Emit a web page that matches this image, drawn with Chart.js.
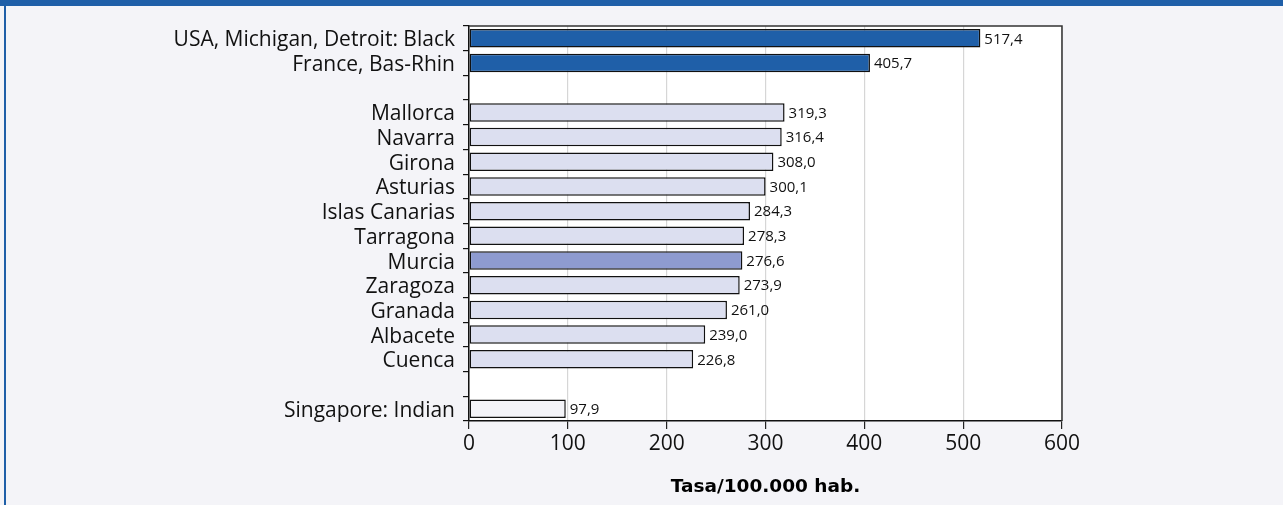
<!DOCTYPE html>
<html>
<head>
<meta charset="utf-8">
<script src="https://cdn.jsdelivr.net/npm/chart.js@4.4.0/dist/chart.umd.min.js"></script>
<style>
  html, body { margin: 0; padding: 0; background: #f4f4f8; }
  #wrap { position: relative; width: 1283px; height: 505px; overflow: hidden; }
  #band { position: absolute; left: 0; top: 0; width: 1283px; height: 6px; background: #1f5fa8; }
  #side { position: absolute; left: 4px; top: 0; width: 2px; height: 505px; background: #1f5fa8; }
  canvas { position: absolute; left: 0; top: 0; }
</style>
</head>
<body>
<div id="wrap">
  <canvas id="chart" width="1283" height="505"></canvas>
  <div id="band"></div>
  <div id="side"></div>
</div>
<script>
const labels = [
  'USA, Michigan, Detroit: Black', 'France, Bas-Rhin', '',
  'Mallorca', 'Navarra', 'Girona', 'Asturias', 'Islas Canarias', 'Tarragona',
  'Murcia', 'Zaragoza', 'Granada', 'Albacete', 'Cuenca', '',
  'Singapore: Indian'
];
const values = [517.4, 405.7, null, 319.3, 316.4, 308.0, 300.1, 284.3, 278.3, 276.6, 273.9, 261.0, 239.0, 226.8, null, 97.9];
const barColors = [
  '#1f5fa8', '#1f5fa8', '#ffffff',
  '#dcdff0', '#dcdff0', '#dcdff0', '#dcdff0', '#dcdff0', '#dcdff0',
  '#8e9bd0', '#dcdff0', '#dcdff0', '#dcdff0', '#dcdff0', '#ffffff',
  '#f4f4f8'
];
const xTicks = [0, 100, 200, 300, 400, 500, 600];
const xTitle = 'Tasa/100.000 hab.';

const fontFamily = "'Open Sans', 'Noto Sans', sans-serif";

const plotArea = {
  id: 'plotArea',
  beforeDraw(chart) {
    const { ctx, chartArea: a } = chart;
    ctx.save();
    ctx.fillStyle = '#ffffff';
    ctx.fillRect(a.left, a.top, a.right - a.left, a.bottom - a.top);
    ctx.restore();
  },
  afterDatasetsDraw(chart) {
    const { ctx, chartArea: a } = chart;
    ctx.save();
    ctx.strokeStyle = '#333333';
    ctx.lineWidth = 1.5;
    ctx.beginPath();
    ctx.moveTo(a.left, a.top);
    ctx.lineTo(a.right, a.top);
    ctx.lineTo(a.right, a.bottom);
    ctx.stroke();
    // value labels
    const meta = chart.getDatasetMeta(0);
    ctx.fillStyle = '#111111';
    ctx.font = '15px ' + fontFamily;
    ctx.textBaseline = 'middle';
    ctx.textAlign = 'left';
    meta.data.forEach((bar, i) => {
      if (values[i] == null) return;
      ctx.fillText(values[i].toFixed(1).replace('.', ','), bar.x + 4, bar.y + 1);
    });
    ctx.restore();
  }
};

new Chart(document.getElementById('chart'), {
  type: 'bar',
  data: {
    labels: labels,
    datasets: [{
      data: values,
      backgroundColor: barColors,
      borderColor: '#111111',
      borderWidth: 1.5,
      borderSkipped: false,
      categoryPercentage: 1,
      barPercentage: 0.75
    }]
  },
  options: {
    indexAxis: 'y',
    responsive: false,
    animation: false,
    layout: { padding: { top: 26, right: 221, left: 0, bottom: 0 } },
    plugins: { legend: { display: false }, tooltip: { enabled: false } },
    scales: {
      x: {
        min: 0,
        max: 600,
        afterBuildTicks(scale) { scale.ticks = xTicks.map(v => ({ value: v })); },
        afterFit(scale) { scale.height = 84; },
        grid: {
          color: '#d6d6d6',
          tickColor: '#222222',
          tickLength: 8,
          lineWidth: 1.2
        },
        border: { color: '#111111', width: 1.5 },
        ticks: {
          color: '#111111',
          padding: 2,
          font: { family: fontFamily, size: 21 }
        },
        title: {
          display: true,
          text: xTitle,
          color: '#000000',
          padding: { top: 0, bottom: 7 },
          font: { family: "'DejaVu Sans', sans-serif", size: 18.5, weight: 'bold' }
        }
      },
      y: {
        afterFit(scale) { scale.width = 469; },
        grid: {
          offset: true,
          drawOnChartArea: false,
          tickLength: 6,
          tickColor: '#111111',
          lineWidth: 1.2
        },
        border: { color: '#111111', width: 1.5 },
        ticks: {
          color: '#111111',
          padding: 8,
          labelOffset: 2,
          autoSkip: false,
          font: { family: fontFamily, size: 21 }
        }
      }
    }
  },
  plugins: [plotArea]
});
</script>
</body>
</html>
